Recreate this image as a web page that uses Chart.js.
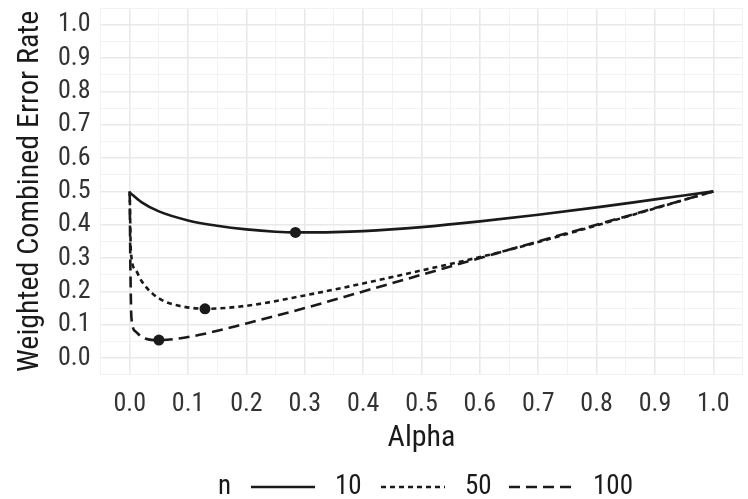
<!DOCTYPE html>
<html>
<head>
<meta charset="utf-8">
<script src="https://cdn.jsdelivr.net/npm/chart.js@4.4.1/dist/chart.umd.min.js"></script>
<style>
  html, body { margin: 0; padding: 0; background: #fff; }
  #wrap { width: 748px; height: 499px; }
</style>
</head>
<body>
<div id="wrap"><canvas id="errChart" width="748" height="499"></canvas></div>
<script>
// alpha grid and combined error rate per sample size
const alpha10 = [0, 0.02, 0.05, 0.1, 0.15, 0.2, 0.25, 0.284, 0.35, 0.4, 0.5, 0.6, 0.7, 0.8, 0.9, 1.0];
const err10   = [0.497, 0.468, 0.44, 0.413, 0.397, 0.386, 0.379, 0.377, 0.378, 0.381, 0.393, 0.41, 0.43, 0.452, 0.476, 0.5];

const alpha50 = [0, 0.002, 0.01, 0.02, 0.04, 0.06, 0.09, 0.129, 0.2, 0.3, 0.4, 0.5, 0.6, 0.7, 0.8, 0.9, 1.0];
const err50   = [0.5, 0.32, 0.265, 0.232, 0.192, 0.17, 0.155, 0.148, 0.157, 0.188, 0.224, 0.263, 0.303, 0.348, 0.398, 0.449, 0.5];

const alpha100 = [0, 0.001, 0.003, 0.01, 0.02, 0.03, 0.05, 0.08, 0.12, 0.2, 0.3, 0.4, 0.5, 0.6, 0.7, 0.8, 0.9, 1.0];
const err100   = [0.5, 0.3, 0.12, 0.08, 0.064, 0.057, 0.054, 0.058, 0.07, 0.104, 0.15, 0.2, 0.25, 0.3, 0.35, 0.4, 0.45, 0.5];

// minimum of each curve
const minAlpha = [0.284, 0.129, 0.05];
const minErr   = [0.377, 0.148, 0.054];

const seriesNames = ["10", "50", "100"];
const majorTicks = [0, 0.1, 0.2, 0.3, 0.4, 0.5, 0.6, 0.7, 0.8, 0.9, 1.0];

const FONT = "'Liberation Sans Narrow', 'Arial Narrow', 'Roboto Condensed', Roboto, sans-serif";
const INK = "#1a1a1a";

const toPts = (xs, ys) => xs.map((x, i) => ({ x: x, y: ys[i] }));

// every 0.05 from -0.05 to 1.05, labels only on the 0.1 steps
function gridTicks(scale) {
  const out = [];
  for (let k = -1; k <= 21; k++) out.push({ value: Math.round(k * 5) / 100 });
  scale.ticks = out;
}
const isMajor = v => majorTicks.some(m => Math.abs(m - v) < 1e-6);
const gridColor = ctx => ctx.tick && isMajor(ctx.tick.value) ? "#e9e9e9" : "#f2f2f2";
const gridWidth = ctx => ctx.tick && isMajor(ctx.tick.value) ? 1.6 : 1;
const tickLabel = v => isMajor(v) ? v.toFixed(1) : "";

// empty edge labels still reserve space, drop it so the panel fills the canvas
function noEdgePad(scale) {
  scale.paddingTop = 0;
  scale.paddingBottom = 0;
  scale.paddingLeft = 0;
  scale.paddingRight = 0;
}

const dashes = [[], [5, 4], [11, 6]];

// legend drawn along the bottom: "n" then the three line samples
const bottomLegend = {
  id: "bottomLegend",
  afterDraw(chart) {
    const ctx = chart.ctx;
    const y = 487;
    ctx.save();
    ctx.font = "27px " + FONT;
    ctx.fillStyle = INK;
    ctx.textBaseline = "middle";
    ctx.fillText("n", 218, y);
    const starts = [251, 381, 509];
    starts.forEach((x0, i) => {
      ctx.beginPath();
      ctx.setLineDash(dashes[i]);
      ctx.lineWidth = 2.5;
      ctx.strokeStyle = INK;
      ctx.moveTo(x0, y);
      ctx.lineTo(x0 + 64, y);
      ctx.stroke();
      ctx.setLineDash([]);
      ctx.fillText(seriesNames[i], x0 + 84, y);
    });
    ctx.restore();
  }
};

new Chart(document.getElementById("errChart"), {
  type: "scatter",
  data: {
    datasets: [
      { label: seriesNames[0], data: toPts(alpha10, err10), borderDash: dashes[0] },
      { label: seriesNames[1], data: toPts(alpha50, err50), borderDash: dashes[1] },
      { label: seriesNames[2], data: toPts(alpha100, err100), borderDash: dashes[2] },
      {
        label: "min",
        data: toPts(minAlpha, minErr),
        showLine: false,
        pointRadius: 5.5,
        backgroundColor: INK,
        borderWidth: 0
      }
    ].map((d, i) => i < 3 ? Object.assign({
      showLine: true,
      borderColor: INK,
      borderWidth: 2.6,
      pointRadius: 0,
      cubicInterpolationMode: "monotone",
      fill: false
    }, d) : d)
  },
  options: {
    responsive: false,
    animation: false,
    layout: { padding: { top: 8, right: 0, bottom: 43, left: 12 } },
    plugins: { legend: { display: false }, tooltip: { enabled: false } },
    scales: {
      x: {
        type: "linear",
        min: -0.05,
        max: 1.05,
        afterBuildTicks: gridTicks,
        afterFit: noEdgePad,
        border: { display: false },
        grid: { color: gridColor, lineWidth: gridWidth, drawTicks: false },
        ticks: {
          autoSkip: false,
          maxRotation: 0,
          padding: 14,
          color: "#333",
          font: { family: FONT, size: 26 },
          callback: tickLabel
        },
        title: {
          display: true,
          text: "Alpha",
          color: INK,
          padding: { top: -14, bottom: 0 },
          font: { family: FONT, size: 30 }
        }
      },
      y: {
        type: "linear",
        min: -0.05,
        max: 1.05,
        afterBuildTicks: gridTicks,
        afterFit: noEdgePad,
        border: { display: false },
        grid: { color: gridColor, lineWidth: gridWidth, drawTicks: false },
        ticks: {
          autoSkip: false,
          padding: 10,
          color: "#333",
          font: { family: FONT, size: 26 },
          callback: tickLabel
        },
        title: {
          display: true,
          text: "Weighted Combined Error Rate",
          color: INK,
          padding: { top: 0, bottom: 0 },
          font: { family: FONT, size: 30 }
        }
      }
    }
  },
  plugins: [bottomLegend]
});
</script>
</body>
</html>
